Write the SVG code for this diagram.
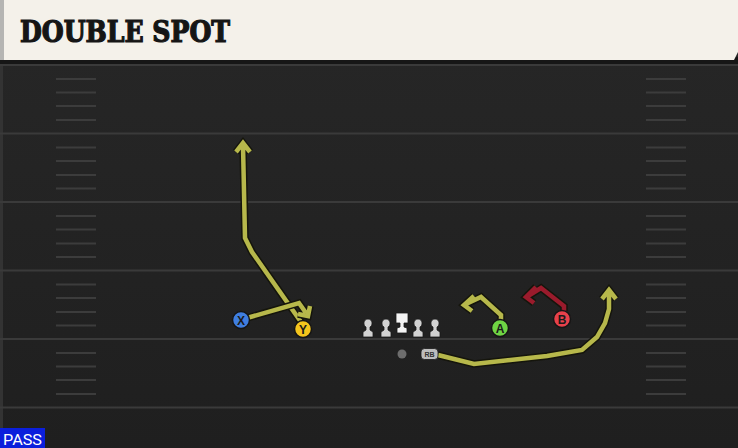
<svg xmlns="http://www.w3.org/2000/svg" width="738" height="448" viewBox="0 0 738 448">
<defs>
<style>
.yl{stroke:#3a3a3a;stroke-width:2;fill:none}
.hm{stroke:#3c3c3c;stroke-width:2}
.ro{fill:none;stroke:#15150c;stroke-width:7.5;stroke-linejoin:miter;stroke-linecap:butt}
.ri{fill:none;stroke:#b7b84b;stroke-width:4.5;stroke-linejoin:miter;stroke-linecap:butt}
.rr{fill:none;stroke:#9a1b2c;stroke-width:4.5;stroke-linejoin:miter}
.pl{stroke:#151515;stroke-width:1.5}
.lt{font-family:"Liberation Sans",Arial,sans-serif;font-weight:bold;font-size:12px;fill:#1a1a1a;text-anchor:middle}
.ln{fill:#d2d2d2;stroke:#1a1a1a;stroke-width:0.8}
</style>
<linearGradient id="fld" x1="0" y1="0" x2="0" y2="1">
<stop offset="0" stop-color="#272727"/>
<stop offset="1" stop-color="#1f1f1f"/>
</linearGradient>
</defs>
<rect x="0" y="0" width="738" height="448" fill="url(#fld)"/>
<rect x="0" y="60" width="3" height="388" fill="#333"/>
<!-- header -->
<g id="header">
<rect x="0" y="57" width="738" height="7" fill="#161616"/>
<polygon points="0,0 738,0 738,52 734,60 0,60" fill="#f4f1ea"/>
<rect x="0" y="0" width="4" height="60" fill="#b5b5b3"/>
<text x="20" y="42" font-family="'DejaVu Serif Condensed','DejaVu Serif',serif" font-weight="bold" font-stretch="condensed" font-size="29" fill="#151515" stroke="#151515" stroke-width="1.2" textLength="210" lengthAdjust="spacingAndGlyphs">DOUBLE SPOT</text>
</g>
<!-- field lines -->
<g id="field">
<line class="yl" x1="0" y1="65" x2="738" y2="65"/>
<line class="yl" x1="0" y1="133.5" x2="738" y2="133.5"/>
<line class="yl" x1="0" y1="202" x2="738" y2="202"/>
<line class="yl" x1="0" y1="270.5" x2="738" y2="270.5"/>
<line class="yl" x1="0" y1="339" x2="738" y2="339"/>
<line class="yl" x1="0" y1="407.5" x2="738" y2="407.5"/>
<g class="hm">
<line x1="56" y1="79" x2="96" y2="79"/><line x1="56" y1="92.5" x2="96" y2="92.5"/><line x1="56" y1="106" x2="96" y2="106"/><line x1="56" y1="120" x2="96" y2="120"/>
<line x1="56" y1="147.5" x2="96" y2="147.5"/><line x1="56" y1="161" x2="96" y2="161"/><line x1="56" y1="175" x2="96" y2="175"/><line x1="56" y1="188.5" x2="96" y2="188.5"/>
<line x1="56" y1="216" x2="96" y2="216"/><line x1="56" y1="229.5" x2="96" y2="229.5"/><line x1="56" y1="243.5" x2="96" y2="243.5"/><line x1="56" y1="257" x2="96" y2="257"/>
<line x1="56" y1="284.5" x2="96" y2="284.5"/><line x1="56" y1="298" x2="96" y2="298"/><line x1="56" y1="312" x2="96" y2="312"/><line x1="56" y1="325.5" x2="96" y2="325.5"/>
<line x1="56" y1="353" x2="96" y2="353"/><line x1="56" y1="366.5" x2="96" y2="366.5"/><line x1="56" y1="380" x2="96" y2="380"/><line x1="56" y1="394" x2="96" y2="394"/>
<line x1="646" y1="79" x2="686" y2="79"/><line x1="646" y1="92.5" x2="686" y2="92.5"/><line x1="646" y1="106" x2="686" y2="106"/><line x1="646" y1="120" x2="686" y2="120"/>
<line x1="646" y1="147.5" x2="686" y2="147.5"/><line x1="646" y1="161" x2="686" y2="161"/><line x1="646" y1="175" x2="686" y2="175"/><line x1="646" y1="188.5" x2="686" y2="188.5"/>
<line x1="646" y1="216" x2="686" y2="216"/><line x1="646" y1="229.5" x2="686" y2="229.5"/><line x1="646" y1="243.5" x2="686" y2="243.5"/><line x1="646" y1="257" x2="686" y2="257"/>
<line x1="646" y1="284.5" x2="686" y2="284.5"/><line x1="646" y1="298" x2="686" y2="298"/><line x1="646" y1="312" x2="686" y2="312"/><line x1="646" y1="325.5" x2="686" y2="325.5"/>
<line x1="646" y1="353" x2="686" y2="353"/><line x1="646" y1="366.5" x2="686" y2="366.5"/><line x1="646" y1="380" x2="686" y2="380"/><line x1="646" y1="394" x2="686" y2="394"/>
</g>
</g>
<!-- connectors -->
<g id="connectors">
<path class="ro" d="M301,322 L252,252 L245,238 L243,145 M236,152 L243,143 L250,152"/>
<path class="ri" d="M301,322 L252,252 L245,238 L243,145 M236,152 L243,143 L250,152"/>
<path class="ro" d="M247,318 L299,303 L306,313 M298,314 L308,316 L310,306"/>
<path class="ri" d="M247,318 L299,303 L306,313 M298,314 L308,316 L310,306"/>
<path class="ro" d="M501,320 L501,315 L481,297 L466,304 M474,296 L464,305 L472,311"/>
<path class="ri" d="M501,320 L501,315 L481,297 L466,304 M474,296 L464,305 L472,311"/>
<path class="ro" d="M564,311 L564,306 L541,288 L528,296 M536,287 L526,297 L534,303"/>
<path class="rr" d="M564,311 L564,306 L541,288 L528,296 M536,287 L526,297 L534,303"/>
<path class="ro" d="M438,355 L474,364 L547,356 L582,350 L597,337 L605,323 L609,309 L609,292 M602,299 L609,290 L616,299"/>
<path class="ri" d="M438,355 L474,364 L547,356 L582,350 L597,337 L605,323 L609,309 L609,292 M602,299 L609,290 L616,299"/>
</g>
<!-- players -->
<g id="X"><circle class="pl" cx="241" cy="320" r="8.5" fill="#3f7ee0"/><text class="lt" x="241" y="324.5">X</text></g>
<g id="Y"><circle class="pl" cx="303" cy="329" r="8.5" fill="#f4c51d"/><text class="lt" x="303" y="333.5">Y</text></g>
<g id="A"><circle class="pl" cx="500" cy="328" r="8.5" fill="#6fd444"/><text class="lt" x="500" y="332.5">A</text></g>
<g id="B"><circle class="pl" cx="562" cy="319" r="8.5" fill="#e7414b"/><text class="lt" x="562" y="323.5">B</text></g>
<g id="LT"><path class="ln" d="M363,337 L363,332 L366,330 L366,327 C363,326 363,319 368,319 C373,319 373,326 370,327 L370,330 L373,332 L373,337 Z"/></g>
<g id="LG"><path class="ln" d="M381,337 L381,332 L384,330 L384,327 C381,326 381,319 386,319 C391,319 391,326 388,327 L388,330 L391,332 L391,337 Z"/></g>
<g id="C"><path d="M396,313 L408,313 L408,323 L404,323 L404,327 L407,328 L407,333 L397,333 L397,328 L400,327 L400,323 L396,323 Z" fill="#f4f4f4" stroke="#1a1a1a" stroke-width="0.8"/></g>
<g id="RG"><path class="ln" d="M413,337 L413,332 L416,330 L416,327 C413,326 413,319 418,319 C423,319 423,326 420,327 L420,330 L423,332 L423,337 Z"/></g>
<g id="RT"><path class="ln" d="M430,337 L430,332 L433,330 L433,327 C430,326 430,319 435,319 C440,319 440,326 437,327 L437,330 L440,332 L440,337 Z"/></g>
<g id="QB"><circle cx="402" cy="354" r="4.5" fill="#6d6d6d"/></g>
<g id="RB"><rect x="421" y="348.5" width="17" height="11" rx="3.5" fill="#bdbdbd" stroke="#1a1a1a" stroke-width="0.8"/><text x="429.5" y="357" font-family="'Liberation Sans',Arial,sans-serif" font-size="7" font-weight="bold" fill="#333" text-anchor="middle">RB</text></g>
<g id="pass">
<rect x="0" y="428" width="45" height="20" fill="#0b1fdc"/>
<text x="3" y="445" font-family="'Roboto','Liberation Sans',sans-serif" font-size="15" fill="#ffffff" textLength="39" lengthAdjust="spacingAndGlyphs">PASS</text>
</g>
</svg>
